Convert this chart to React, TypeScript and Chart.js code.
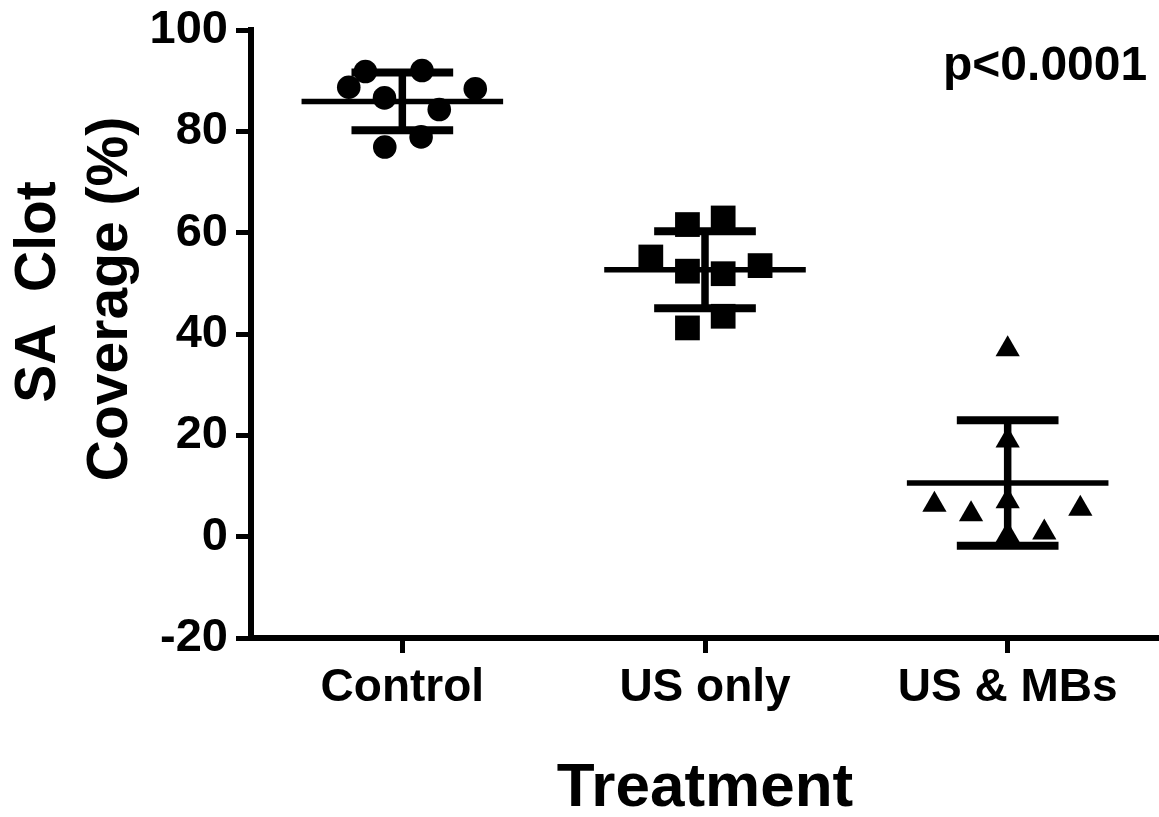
import React, { useEffect, useRef } from 'react';
import { Chart, registerables } from 'chart.js';

Chart.register(...registerables);

const FONT = '"Liberation Sans", Arial, Helvetica, sans-serif';

// ---- data ----
const categories = ['Control', 'US only', 'US & MBs'];
const controlValues = [88.7, 91.8, 92.0, 88.4, 86.6, 84.3, 76.9, 78.9];
const controlJitter = [-0.177, -0.122, 0.065, 0.241, -0.059, 0.122, -0.058, 0.062];
const usOnlyValues = [61.6, 62.9, 55.2, 52.4, 51.9, 53.5, 41.2, 43.5];
const usOnlyJitter = [-0.058, 0.06, -0.179, -0.058, 0.06, 0.182, -0.058, 0.06];
const usMbValues = [37.0, 19.0, 6.3, 4.4, 7.0, 5.5, 0.8, 0.3];
const usMbJitter = [0, 0, -0.242, -0.121, 0, 0.24, 0.121, 0];
const groupMeans = [85.9, 52.7, 10.6];
const groupSDs = [5.7, 7.6, 12.4];
const yTicks = [-20, 0, 20, 40, 60, 80, 100];
const yTitleLines = ['SA  Clot', 'Coverage (%)'];
const xTitle = 'Treatment';
const pValueText = 'p<0.0001';

export default function App() {
  const ref = useRef<HTMLCanvasElement>(null);

  useEffect(() => {
    document.body.style.margin = '0';
    const canvas = ref.current;
    if (!canvas) return;

    const groups = [
      { values: controlValues, jitter: controlJitter, style: 'circle', radius: 11.8 },
      { values: usOnlyValues, jitter: usOnlyJitter, style: 'rect', radius: 17.5 },
      { values: usMbValues, jitter: usMbJitter, style: 'triangle', radius: 14 },
    ];

    const meanHalf = 0.333;
    const capHalf = 0.168;

    const datasets: any[] = [];
    groups.forEach((g, i) => {
      datasets.push({
        label: categories[i],
        data: g.values.map((v, k) => ({ x: i + g.jitter[k], y: v })),
        pointStyle: g.style,
        pointRadius: g.radius,
        pointHoverRadius: g.radius,
        backgroundColor: '#000',
        borderColor: '#000',
        borderWidth: 0,
        showLine: false,
        order: 2,
      });
    });

    const seg = (pts: { x: number; y: number }[], w: number) => ({
      data: pts,
      showLine: true,
      borderColor: '#000',
      backgroundColor: '#000',
      borderWidth: w,
      borderCapStyle: 'butt',
      pointRadius: 0,
      pointHoverRadius: 0,
      fill: false,
      order: 1,
    });

    groups.forEach((_, i) => {
      const m = groupMeans[i];
      const s = groupSDs[i];
      datasets.push(seg([{ x: i - meanHalf, y: m }, { x: i + meanHalf, y: m }], 5.5));
      datasets.push(seg([{ x: i, y: m - s }, { x: i, y: m + s }], 7.5));
      datasets.push(seg([{ x: i - capHalf, y: m + s }, { x: i + capHalf, y: m + s }], 8));
      datasets.push(seg([{ x: i - capHalf, y: m - s }, { x: i + capHalf, y: m - s }], 8));
    });

    const textPlugin = {
      id: 'extraText',
      afterDraw(chart: any) {
        const c = chart.ctx;
        c.save();
        c.fillStyle = '#000';
        c.font = `bold 57px ${FONT}`;
        c.textAlign = 'center';
        c.textBaseline = 'alphabetic';
        const pos = [
          { x: 55, y: 292 },
          { x: 127, y: 299 },
        ];
        yTitleLines.forEach((t, k) => {
          c.save();
          c.translate(pos[k].x, pos[k].y);
          c.rotate(-Math.PI / 2);
          c.fillText(t, 0, 0);
          c.restore();
        });
        c.font = `bold 48px ${FONT}`;
        c.textAlign = 'left';
        c.fillText(pValueText, 943, 80);
        c.restore();
      },
    };

    const chart = new Chart(canvas, {
      type: 'scatter',
      data: { datasets },
      options: {
        animation: false,
        responsive: false,
        devicePixelRatio: 1,
        layout: { autoPadding: false, padding: { top: 30, left: 0, right: 0, bottom: 0 } },
        plugins: {
          legend: { display: false },
          tooltip: { enabled: false },
        },
        scales: {
          x: {
            type: 'linear',
            min: -0.5,
            max: 2.5,
            afterBuildTicks: (scale: any) => {
              scale.ticks = categories.map((_, i) => ({ value: i }));
            },
            afterFit: (scale: any) => {
              scale.height = 179;
              scale.paddingLeft = 0;
              scale.paddingRight = 0;
              scale.paddingTop = 0;
              scale.paddingBottom = 0;
            },
            ticks: {
              color: '#000',
              font: { family: FONT, size: 46, weight: 'bold' },
              padding: 8,
              maxRotation: 0,
              autoSkip: false,
              callback: (v: any) => categories[Math.round(Number(v))] ?? '',
            },
            grid: {
              display: true,
              drawOnChartArea: false,
              drawTicks: true,
              tickLength: 15,
              tickWidth: 5,
              tickColor: '#000',
              lineWidth: 5,
              color: '#000',
            },
            border: { display: true, color: '#000', width: 6 },
            title: {
              display: true,
              text: xTitle,
              color: '#000',
              font: { family: FONT, size: 62, weight: 'bold', lineHeight: 0.9 },
              padding: { top: 0, bottom: 0 },
            },
          },
          y: {
            type: 'linear',
            min: -20,
            max: 100,
            afterBuildTicks: (scale: any) => {
              scale.ticks = yTicks.map((v) => ({ value: v }));
            },
            afterFit: (scale: any) => {
              scale.width = 251;
              scale.paddingLeft = 0;
              scale.paddingRight = 0;
              scale.paddingTop = 0;
              scale.paddingBottom = 0;
            },
            ticks: {
              color: '#000',
              font: { family: FONT, size: 47, weight: 'bold' },
              padding: 8,
            },
            grid: {
              display: true,
              drawOnChartArea: false,
              drawTicks: true,
              tickLength: 15,
              tickWidth: 5,
              tickColor: '#000',
              lineWidth: 5,
              color: '#000',
            },
            border: { display: true, color: '#000', width: 6 },
          },
        },
      },
      plugins: [textPlugin],
    } as any);

    return () => chart.destroy();
  }, []);

  return (
    <div style={{ position: 'fixed', left: 0, top: 0, width: 1159, height: 817, background: '#fff' }}>
      <canvas ref={ref} width={1159} height={817} style={{ display: 'block' }} />
    </div>
  );
}
